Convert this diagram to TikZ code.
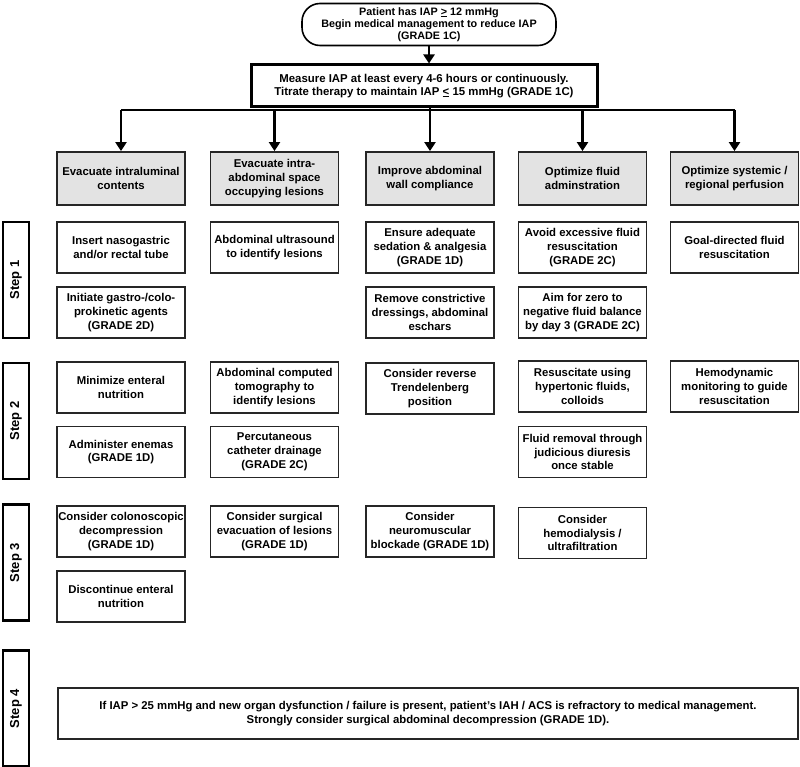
\documentclass[tikz,border=0pt]{standalone}
\usepackage{fontspec}
\setmainfont{Liberation Sans}
\usetikzlibrary{arrows.meta}
\begin{document}
\begin{tikzpicture}[x=1pt,y=-1pt,
  box/.style={draw=black!85,line width=1.1pt,minimum width=128pt,minimum height=51pt,align=center,
    font=\fontsize{11.35}{13.8}\selectfont\bfseries,inner sep=0.5pt},
  hdr/.style={box,fill=black!11,line width=1.8pt,minimum height=53pt},
  steplbl/.style={draw,line width=2.4pt,rotate=90,minimum width=116pt,minimum height=26pt,inner sep=0pt,
    font=\fontsize{13}{15}\selectfont\bfseries},
  arr/.style={line width=2.2pt,-{Triangle[length=9pt,width=11pt]}},
  trunk/.style={line width=2.2pt}]
\useasboundingbox (0,0) rectangle (800,767);

% top
\node[draw,line width=1.6pt,rounded corners=18pt,minimum width=254pt,minimum height=42pt,align=center,
  font=\fontsize{10.8}{12}\selectfont\bfseries,inner sep=1pt] (top) at (429,24.5)
  {Patient has IAP \underline{>} 12 mmHg\\Begin medical management to reduce IAP\\(GRADE 1C)};
\node[draw,line width=3pt,minimum width=346pt,minimum height=42pt,align=center,
  font=\fontsize{11.4}{12.5}\selectfont\bfseries,inner sep=1pt] (meas) at (424,86)
  {Measure IAP at least every 4-6 hours or continuously.\\Titrate therapy to maintain IAP \underline{<} 15 mmHg (GRADE 1C)};
\draw[arr] (top.south) -- (top.south |- meas.north);

% headers
\node[hdr] (h1) at (121,178.5) {Evacuate intraluminal\\contents};
\node[hdr] (h2) at (274.5,178.5) {Evacuate intra-\\abdominal space\\occupying lesions};
\node[hdr] (h3) at (430,178.5) {Improve abdominal\\wall compliance};
\node[hdr] (h4) at (582.5,178.5) {Optimize fluid\\adminstration};
\node[hdr] (h5) at (734.5,178.5) {Optimize systemic /\\regional perfusion};

\coordinate (br) at (428,110);
\draw[trunk] (h1.north |- br) -- (h5.north |- br);
\draw[arr] (h1.north |- br) -- (h1.north);
\draw[arr] (h2.north |- br) -- (h2.north);
\draw[arr] (h3.north |- meas.south) -- (h3.north);
\draw[arr] (h4.north |- br) -- (h4.north);
\draw[arr] (h5.north |- br) -- (h5.north);

% step labels
\node[steplbl] (s1) at (16,280) {Step 1};
\node[steplbl] (s2) at (16,421) {Step 2};
\node[steplbl] (s3) at (16,562.5) {Step 3};
\node[steplbl] (s4) at (16,708.5) {Step 4};

% step 1
\node[box] (a11) at (121,247.5) {Insert nasogastric\\and/or rectal tube};
\node[box] (a12) at (121,312.5) {Initiate gastro-/colo-\\prokinetic agents\\(GRADE 2D)};
\node[box] (b11) at (274.5,247.5) {Abdominal ultrasound\\to identify lesions};
\node[box] (c11) at (430,247.5) {Ensure adequate\\sedation \& analgesia\\(GRADE 1D)};
\node[box] (c12) at (430,312.5) {Remove constrictive\\dressings, abdominal\\eschars};
\node[box] (d11) at (582.5,247.5) {Avoid excessive fluid\\resuscitation\\(GRADE 2C)};
\node[box] (d12) at (582.5,312.5) {Aim for zero to\\negative fluid balance\\by day 3 (GRADE 2C)};
\node[box] (e11) at (734.5,247.5) {Goal-directed fluid\\resuscitation};

% step 2
\node[box] (a21) at (121,387.5) {Minimize enteral\\nutrition};
\node[box] (a22) at (121,452) {Administer enemas\\(GRADE 1D)};
\node[box] (b21) at (274.5,387.5) {Abdominal computed\\tomography to\\identify lesions};
\node[box] (b22) at (274.5,452) {Percutaneous\\catheter drainage\\(GRADE 2C)};
\node[box] (c21) at (430,388.5) {Consider reverse\\Trendelenberg\\position};
\node[box] (d21) at (582.5,386.5) {Resuscitate using\\hypertonic fluids,\\colloids};
\node[box] (d22) at (582.5,452) {Fluid removal through\\judicious diuresis\\once stable};
\node[box] (e21) at (734.5,386.5) {Hemodynamic\\monitoring to guide\\resuscitation};

% step 3
\node[box] (a31) at (121,531.5) {Consider colonoscopic\\decompression\\(GRADE 1D)};
\node[box] (a32) at (121,596.5) {Discontinue enteral\\nutrition};
\node[box] (b31) at (274.5,531.5) {Consider surgical\\evacuation of lesions\\(GRADE 1D)};
\node[box] (c31) at (430,531.5) {Consider\\neuromuscular\\blockade (GRADE 1D)};
\node[box] (d31) at (582.5,533) {Consider\\hemodialysis /\\ultrafiltration};

% step 4
\node[box,minimum width=740pt,minimum height=51pt,font=\fontsize{11.35}{14}\selectfont\bfseries] (f4) at (428,713.5)
  {If IAP > 25 mmHg and new organ dysfunction / failure is present, patient's IAH / ACS is refractory to medical management.\\
   Strongly consider surgical abdominal decompression (GRADE 1D).};
\end{tikzpicture}
\end{document}
